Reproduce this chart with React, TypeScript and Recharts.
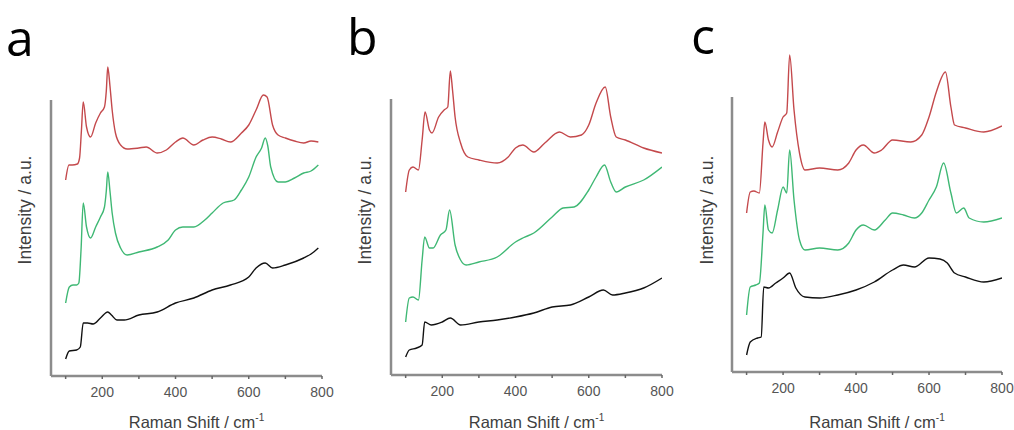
import { Label, Line, LineChart, ReferenceLine, XAxis, YAxis } from 'recharts'

// [Raman shift (cm-1), intensity (a.u., stacked offset)]
const aRed = [
  [100, 196], [109, 211], [118, 211], [132, 212], [138, 218], [143, 245], [148, 274], [157, 249],
  [168, 239], [182, 253], [195, 263], [206, 269], [211, 285], [215, 309], [221, 290], [227, 266],
  [236, 243], [250, 231], [268, 227], [300, 228], [320, 229], [350, 223], [375, 226], [400, 234],
  [420, 238], [450, 231], [475, 236], [500, 239], [525, 237], [550, 234], [580, 243], [600, 251],
  [620, 266], [640, 281], [650, 279], [665, 251], [680, 241], [700, 238], [725, 235], [750, 233],
  [770, 235], [790, 234],
]
const aGreen = [
  [100, 73], [110, 89], [120, 91], [130, 91], [136, 93], [142, 126], [148, 173], [157, 149],
  [168, 138], [182, 149], [195, 159], [206, 169], [211, 185], [215, 204], [221, 185], [227, 163],
  [236, 143], [250, 128], [268, 121], [300, 124], [350, 129], [380, 136], [400, 146], [420, 149],
  [450, 149], [480, 156], [500, 163], [530, 173], [560, 176], [580, 186], [600, 199], [620, 219],
  [635, 228], [645, 238], [652, 230], [660, 209], [680, 194], [700, 194], [725, 198], [750, 203],
  [770, 205], [790, 211],
]
const aBlack = [
  [100, 17], [110, 25], [130, 26], [140, 29], [148, 53], [160, 53], [175, 52], [195, 58],
  [215, 64], [225, 61], [240, 56], [260, 56], [300, 61], [350, 64], [400, 73], [450, 78],
  [500, 86], [550, 91], [600, 99], [620, 108], [645, 113], [665, 108], [700, 111], [750, 118],
  [770, 122], [790, 128],
]

const bRed = [
  [100, 183], [110, 205], [120, 208], [135, 205], [145, 235], [153, 263], [165, 245], [172, 242],
  [190, 258], [205, 265], [215, 268], [222, 304], [228, 285], [235, 258], [250, 232], [270, 218],
  [300, 215], [350, 212], [380, 218], [400, 227], [420, 230], [450, 223], [480, 232], [520, 243],
  [550, 238], [580, 240], [600, 250], [620, 272], [645, 288], [660, 258], [675, 238], [700, 235],
  [750, 227], [800, 222],
]
const bGreen = [
  [100, 53], [110, 77], [120, 78], [135, 75], [145, 115], [152, 138], [165, 127], [175, 127],
  [195, 140], [210, 145], [220, 165], [235, 130], [250, 115], [265, 110], [300, 113], [350, 118],
  [400, 133], [420, 137], [450, 142], [500, 158], [530, 167], [560, 168], [600, 185], [620, 198],
  [643, 210], [660, 193], [675, 183], [700, 188], [750, 195], [800, 208],
]
const bBlack = [
  [100, 18], [110, 25], [130, 27], [145, 30], [152, 53], [170, 50], [200, 53], [222, 57],
  [250, 50], [300, 53], [350, 55], [400, 58], [450, 62], [500, 68], [550, 70], [600, 78],
  [640, 85], [665, 80], [700, 82], [750, 87], [800, 97],
]

const cRed = [
  [100, 159], [110, 180], [120, 181], [135, 179], [145, 229], [150, 250], [160, 232], [170, 225],
  [185, 240], [200, 255], [210, 259], [218, 317], [230, 262], [245, 219], [260, 202], [300, 204],
  [350, 202], [380, 209], [400, 222], [420, 227], [450, 219], [470, 222], [500, 232], [550, 230],
  [580, 237], [600, 255], [620, 280], [645, 300], [660, 265], [670, 247], [700, 244], [750, 240],
  [800, 246],
]
const cGreen = [
  [100, 57], [110, 85], [125, 87], [135, 89], [145, 139], [150, 167], [160, 142], [170, 139],
  [185, 162], [200, 185], [210, 179], [218, 222], [230, 172], [245, 132], [260, 122], [300, 124],
  [350, 122], [380, 129], [400, 142], [420, 147], [450, 142], [480, 152], [500, 159], [530, 157],
  [560, 154], [580, 159], [600, 172], [620, 185], [640, 209], [660, 179], [675, 159], [695, 164],
  [710, 154], [750, 150], [800, 154],
]
const cBlack = [
  [100, 17], [110, 30], [130, 34], [140, 35], [147, 85], [160, 84], [180, 89], [200, 94],
  [218, 99], [235, 84], [260, 75], [300, 74], [350, 77], [400, 82], [450, 90], [500, 102],
  [530, 107], [560, 105], [600, 114], [630, 113], [650, 109], [670, 99], [700, 95], [750, 90],
  [800, 94],
]

const xTicks = [100, 200, 300, 400, 500, 600, 700, 800]
const letters = ['a', 'b', 'c']
const yTitle = 'Intensity / a.u.'

const RED = '#c4494c'
const GREEN = '#3fb874'
const BLACK = '#111111'
const AXIS = '#8c8c8c'
const FONT = '"Liberation Sans", Arial, sans-serif'

const toPoints = (arr: number[][]) => arr.map(([shift, intensity]) => ({ shift, intensity }))

const panels = [
  { left: 0, width: 340, top: 50, bottom: 376, darkFrom: 100, ml: 51, mr: 18, series: [aRed, aGreen, aBlack] },
  { left: 340, width: 340, top: 50, bottom: 375, darkFrom: 99, ml: 51, mr: 18, series: [bRed, bGreen, bBlack] },
  { left: 680, width: 334, top: 48, bottom: 372, darkFrom: 97, ml: 52, mr: 12, series: [cRed, cGreen, cBlack] },
]

const renderXLabel = (props: any) => {
  const { x, y, width, height } = props.viewBox
  return (
    <text x={x + width / 2 + 10} y={y + height - 2} textAnchor='middle' fontFamily={FONT} fontSize={16.5} fill='#404040'>
      Raman Shift / cm
      <tspan dy={-7} fontSize={10}>-1</tspan>
    </text>
  )
}

function Panel({ panel, index }: { panel: (typeof panels)[number]; index: number }) {
  const span = panel.bottom - panel.top
  const colors = [RED, GREEN, BLACK]
  return (
    <div style={{ position: 'absolute', left: panel.left, top: 0 }}>
      <LineChart
        width={panel.width}
        height={430}
        margin={{ top: panel.top, right: panel.mr, left: panel.ml, bottom: 0 }}
      >
        <XAxis
          dataKey='shift'
          type='number'
          domain={[60, 800]}
          ticks={xTicks}
          tickFormatter={(v: number) => (v % 200 === 0 ? String(v) : '')}
          tick={{ fill: '#555555', fontSize: 14, fontFamily: FONT }}
          tickSize={3}
          tickMargin={8}
          tickLine={{ stroke: '#666666', strokeWidth: 1.5 }}
          axisLine={{ stroke: AXIS, strokeWidth: 2.5 }}
          height={430 - panel.bottom}
          allowDataOverflow
        >
          <Label content={renderXLabel} />
        </XAxis>
        <YAxis
          type='number'
          domain={[0, span]}
          width={0}
          tick={false}
          tickLine={false}
          axisLine={{ stroke: '#d8d8d8', strokeWidth: 2 }}
          allowDataOverflow
        />
        <ReferenceLine
          segment={[
            { x: 60, y: 0 },
            { x: 60, y: panel.bottom - panel.darkFrom },
          ]}
          stroke={AXIS}
          strokeWidth={2.5}
          ifOverflow='visible'
        />
        {panel.series.map((s, i) => (
          <Line
            key={letters[index] + i}
            data={toPoints(s)}
            dataKey='intensity'
            type='monotone'
            stroke={colors[i]}
            strokeWidth={1.4}
            dot={false}
            activeDot={false}
            isAnimationActive={false}
          />
        ))}
      </LineChart>
    </div>
  )
}

export default function App() {
  return (
    <div style={{ position: 'absolute', left: 0, top: 0, width: 1014, height: 430, background: '#fff' }}>
      {panels.map((p, i) => (
        <Panel key={letters[i]} panel={p} index={i} />
      ))}
      <svg width={1014} height={430} style={{ position: 'absolute', left: 0, top: 0, pointerEvents: 'none' }}>
        {letters.map((l, i) => (
          <text
            key={l}
            x={[6, 347, 691][i]}
            y={[56, 55, 54][i]}
            fontFamily='"Open Sans", "Noto Sans", sans-serif'
            fontSize={50}
            fill='#000'
          >
            {l}
          </text>
        ))}
        {panels.map((p, i) => {
          const cx = p.left + [25, 25, 27][i]
          const cy = 210
          return (
            <text
              key={'y' + i}
              x={cx}
              y={cy}
              transform={`rotate(-90, ${cx}, ${cy})`}
              textAnchor='middle'
              dominantBaseline='central'
              fontFamily={FONT}
              fontSize={17.5}
              fill='#404040'
            >
              {yTitle}
            </text>
          )
        })}
      </svg>
    </div>
  )
}
